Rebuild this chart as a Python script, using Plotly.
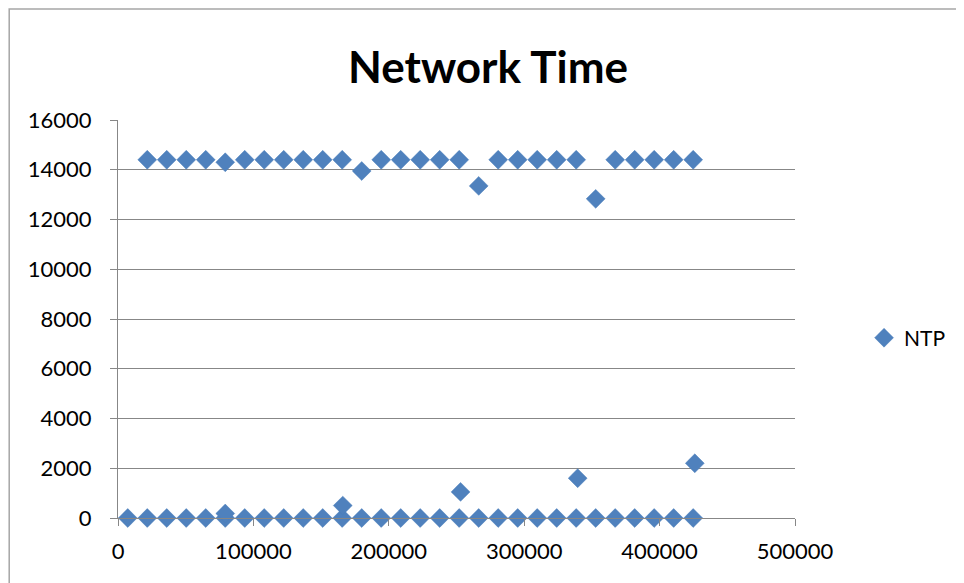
import plotly.graph_objects as go

# Bottom row (offsets near zero)
bottom_x = [7200, 21600, 36000, 50400, 64800, 79200, 93600, 108000, 122400, 136800,
            151200, 165600, 180000, 194400, 208800, 223200, 237600, 252000, 266400, 280800,
            295200, 309600, 324000, 338400, 352800, 367200, 381600, 396000, 410400, 424800]
bottom_y = [0, 0, 0, 0, 0, 0, 0, 0, 0, 0,
            0, 0, 0, 0, 0, 0, 0, 0, 0, 0,
            0, 0, 0, 0, 0, 0, 0, 0, 0, 0]

# Top row (poll interval values)
top_x = [21600, 36000, 50400, 64800, 79200, 93600, 108000, 122400, 136800, 151200,
         165600, 180000, 194400, 208800, 223200, 237600, 252000, 266400, 280800, 295200,
         309600, 324000, 338400, 352800, 367200, 381600, 396000, 410400, 424800]
top_y = [14400, 14400, 14400, 14400, 14300, 14400, 14400, 14400, 14400, 14400,
         14400, 13950, 14400, 14400, 14400, 14400, 14400, 13350, 14400, 14400,
         14400, 14400, 14400, 12830, 14400, 14400, 14400, 14400, 14400]

# Elevated outliers
extra_x = [79200, 166000, 253000, 339500, 426000]
extra_y = [180, 500, 1050, 1600, 2200]

x_ticks = [0, 100000, 200000, 300000, 400000, 500000]
y_ticks = [0, 2000, 4000, 6000, 8000, 10000, 12000, 14000, 16000]

ntp_x = bottom_x + top_x + extra_x
ntp_y = bottom_y + top_y + extra_y

BLUE = "#4F81BD"
GRID = "#878787"
FONT = "Lato"

fig = go.Figure()
fig.add_trace(go.Scatter(
    x=ntp_x, y=ntp_y, mode="markers", name="NTP",
    marker=dict(symbol="diamond", size=14.5, color=BLUE,
                line=dict(color="#4A7EBB", width=0.5)),
    cliponaxis=False,
))

fig.update_layout(
    width=964, height=583,
    margin=dict(l=110, r=177, t=112, b=73),
    paper_bgcolor="white", plot_bgcolor="white",
    font=dict(family=FONT, size=22, color="black"),
    title=dict(text="<b>Network Time</b>", x=0.498, xref="container", xanchor="center",
               y=0.897, yref="container", yanchor="middle",
               font=dict(family=FONT, size=44, color="black")),
    showlegend=True,
    legend=dict(x=1.102, y=0.452, xanchor="left", yanchor="middle",
                font=dict(family=FONT, size=21, color="black"),
                bgcolor="rgba(0,0,0,0)"),
    xaxis=dict(range=[0, 500000], tickvals=x_ticks, ticktext=[str(v) for v in x_ticks],
               showgrid=False, zeroline=False, showline=True, linecolor=GRID, linewidth=1,
               ticks="outside", ticklen=7, tickcolor=GRID, tickwidth=1,
               ticklabelstandoff=7, tickfont=dict(family=FONT, size=22, color="black")),
    yaxis=dict(range=[0, 16000], tickvals=y_ticks, ticktext=[str(v) for v in y_ticks],
               showgrid=True, gridcolor=GRID, gridwidth=1, zeroline=False,
               showline=True, linecolor=GRID, linewidth=1,
               ticks="outside", ticklen=7, tickcolor=GRID, tickwidth=1,
               ticklabelstandoff=14, tickfont=dict(family=FONT, size=22, color="black")),
    shapes=[dict(type="rect", xref="paper", yref="paper",
                 x0=-0.1607, x1=1.3, y0=-0.25, y1=1.279,
                 line=dict(color="#A6A6A6", width=1.5), fillcolor="rgba(0,0,0,0)",
                 layer="below")],
)

fig.write_html("out.html")
